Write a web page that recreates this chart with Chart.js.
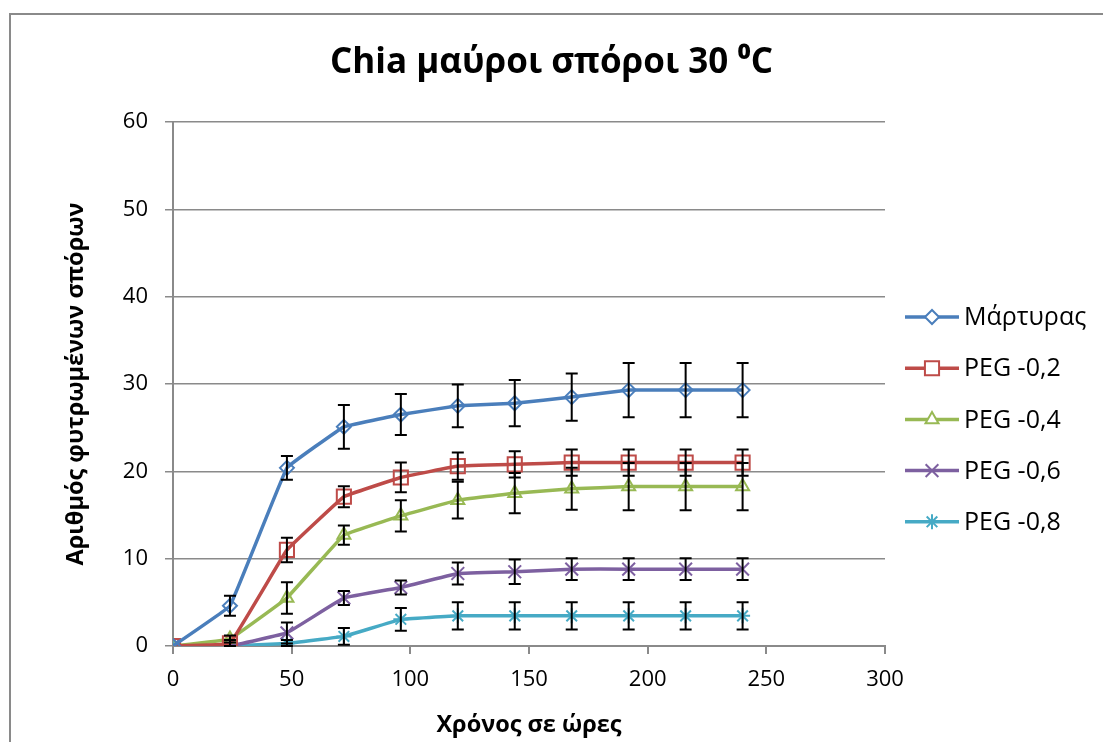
<!DOCTYPE html>
<html>
<head>
<meta charset="utf-8">
<script src="https://cdn.jsdelivr.net/npm/chart.js@4"></script>
<style>
  body { margin: 0; background: #fff; }
</style>
</head>
<body>
<canvas id="grafico" width="1103" height="742"></canvas>
<script>
const hours = [0, 24, 48, 72, 96, 120, 144, 168, 192, 216, 240];
const seriesNames = ['Μάρτυρας', 'PEG -0,2', 'PEG -0,4', 'PEG -0,6', 'PEG -0,8'];

const martyras = [0, 4.6, 20.4, 25.1, 26.5, 27.5, 27.8, 28.5, 29.3, 29.3, 29.3];
const martyrasErr = [0, 1.15, 1.35, 2.5, 2.35, 2.45, 2.65, 2.7, 3.1, 3.1, 3.1];
const peg02 = [0, 0.3, 11.0, 17.1, 19.3, 20.6, 20.8, 21.0, 21.0, 21.0, 21.0];
const peg02Err = [0, 0.4, 1.4, 1.2, 1.7, 1.55, 1.5, 1.5, 1.5, 1.5, 1.5];
const peg04 = [0, 0.8, 5.5, 12.7, 14.9, 16.7, 17.5, 18.0, 18.25, 18.25, 18.25];
const peg04Err = [0, 0.4, 1.8, 1.1, 1.8, 2.1, 2.3, 2.4, 2.7, 2.7, 2.7];
const peg06 = [0, 0, 1.5, 5.5, 6.7, 8.3, 8.5, 8.8, 8.8, 8.8, 8.8];
const peg06Err = [0, 0, 1.2, 0.8, 0.8, 1.25, 1.4, 1.25, 1.25, 1.25, 1.25];
const peg08 = [0, 0, 0.3, 1.1, 3.05, 3.45, 3.45, 3.45, 3.45, 3.45, 3.45];
const peg08Err = [0, 0, 0.4, 0.95, 1.3, 1.55, 1.55, 1.55, 1.55, 1.55, 1.55];

const xTicks = [0, 50, 100, 150, 200, 250, 300];
const yTicks = [0, 10, 20, 30, 40, 50, 60];

const FONT = "'Open Sans', 'Noto Sans', sans-serif";
const GREY = '#8a8a8a';

function serie(label, values, errors, color, style, radius) {
    return {
        label: label,
        data: hours.map((h, i) => ({ x: h, y: values[i] })),
        errors: errors,
        borderColor: color,
        backgroundColor: color,
        borderWidth: 3.5,
        tension: 0.05,
        pointStyle: style,
        pointRadius: radius,
        pointBorderColor: color,
        pointBackgroundColor: 'rgba(255,255,255,0)',
        pointBorderWidth: 2
    };
}

// barras de error en negro
const errorBars = {
    id: 'errorBars',
    afterDatasetsDraw(chart) {
        const c = chart.ctx;
        const xs = chart.scales.x, ys = chart.scales.y;
        c.save();
        c.strokeStyle = '#000';
        c.lineWidth = 2;
        chart.data.datasets.forEach(ds => {
            ds.data.forEach((p, i) => {
                const e = ds.errors[i];
                if (!e) return;
                const px = xs.getPixelForValue(p.x);
                const top = ys.getPixelForValue(p.y + e);
                const bot = ys.getPixelForValue(Math.max(p.y - e, 0));
                c.beginPath();
                c.moveTo(px, top); c.lineTo(px, bot);
                c.moveTo(px - 6, top); c.lineTo(px + 6, top);
                c.moveTo(px - 6, bot); c.lineTo(px + 6, bot);
                c.stroke();
            });
        });
        c.restore();
    }
};

// marco y leyenda a la derecha
const frameLegend = {
    id: 'frameLegend',
    beforeDraw(chart) {
        const c = chart.ctx;
        c.save();
        c.fillStyle = '#fff';
        c.fillRect(0, 0, chart.width, chart.height);
        c.strokeStyle = GREY;
        c.lineWidth = 2;
        c.beginPath();
        c.moveTo(10, chart.height); c.lineTo(10, 14); c.lineTo(chart.width, 14);
        c.stroke();
        c.restore();
    },
    afterDraw(chart) {
        const c = chart.ctx;
        c.save();
        chart.data.datasets.forEach((ds, i) => {
            const y = 317 + i * 51.2;
            c.strokeStyle = ds.borderColor;
            c.lineWidth = 3.5;
            c.beginPath();
            c.moveTo(905, y); c.lineTo(959, y);
            c.stroke();
            c.fillStyle = '#fff';
            c.lineWidth = 2;
            Chart.helpers.drawPoint(c, {
                pointStyle: ds.pointStyle,
                radius: ds.pointRadius,
                borderWidth: 2,
                rotation: 0
            }, 932, y);
            c.fillStyle = '#000';
            c.font = '25px ' + FONT;
            c.textBaseline = 'middle';
            c.textAlign = 'left';
            c.fillText(ds.label, 964, y + 1);
        });
        c.restore();
    }
};

document.addEventListener('DOMContentLoaded', function() {
    const ctx = document.getElementById('grafico').getContext('2d');

    const grafico = new Chart(ctx, {
        type: 'line',
        data: {
            datasets: [
                serie(seriesNames[0], martyras, martyrasErr, '#4a7ebb', 'rectRot', 7),
                serie(seriesNames[1], peg02, peg02Err, '#be4b48', 'rect', 10),
                serie(seriesNames[2], peg04, peg04Err, '#98b954', 'triangle', 7.5),
                serie(seriesNames[3], peg06, peg06Err, '#7d60a0', 'crossRot', 9),
                serie(seriesNames[4], peg08, peg08Err, '#46aac5', 'star', 7.5)
            ]
        },
        options: {
            responsive: false,
            animation: false,
            layout: {
                padding: 0
            },
            plugins: {
                legend: { display: false },
                tooltip: { enabled: false },
                title: {
                    display: true,
                    text: 'Chia μαύροι σπόροι 30 ⁰C',
                    color: '#000',
                    font: { family: FONT, size: 35, weight: 'bold' },
                    padding: { top: 42, bottom: 38 }
                }
            },
            scales: {
                x: {
                    type: 'linear',
                    min: 0,
                    max: 300,
                    afterBuildTicks: s => { s.ticks = xTicks.map(v => ({ value: v })); },
                    afterFit: s => { s.height = 96; },
                    grid: {
                        drawOnChartArea: false,
                        color: GREY,
                        lineWidth: 2,
                        tickLength: 8
                    },
                    border: { color: GREY, width: 2 },
                    ticks: {
                        color: '#000',
                        padding: 13,
                        maxRotation: 0,
                        font: { family: FONT, size: 22 }
                    },
                    title: {
                        display: true,
                        text: 'Χρόνος σε ώρες',
                        color: '#000',
                        font: { family: FONT, size: 23.5, weight: 'bold' },
                        padding: { top: 0, bottom: 3 }
                    }
                },
                y: {
                    min: 0,
                    max: 60,
                    afterBuildTicks: s => { s.ticks = yTicks.map(v => ({ value: v })); },
                    afterFit: s => { s.width = 173; },
                    grid: {
                        color: GREY,
                        lineWidth: 1.5,
                        tickLength: 8
                    },
                    border: { color: GREY, width: 2 },
                    ticks: {
                        color: '#000',
                        padding: 17,
                        font: { family: FONT, size: 22 }
                    },
                    title: {
                        display: true,
                        text: 'Αριθμός φυτρωμένων σπόρων',
                        color: '#000',
                        font: { family: FONT, size: 23.5, weight: 'bold' },
                        padding: { top: 62, bottom: 0 }
                    }
                },
                // espacio para la leyenda
                leyenda: {
                    type: 'linear',
                    position: 'right',
                    display: true,
                    grid: { display: false },
                    border: { display: false },
                    ticks: { display: false },
                    afterFit: s => { s.width = 218; }
                }
            }
        },
        plugins: [frameLegend, errorBars]
    });
});
</script>
</body>
</html>
